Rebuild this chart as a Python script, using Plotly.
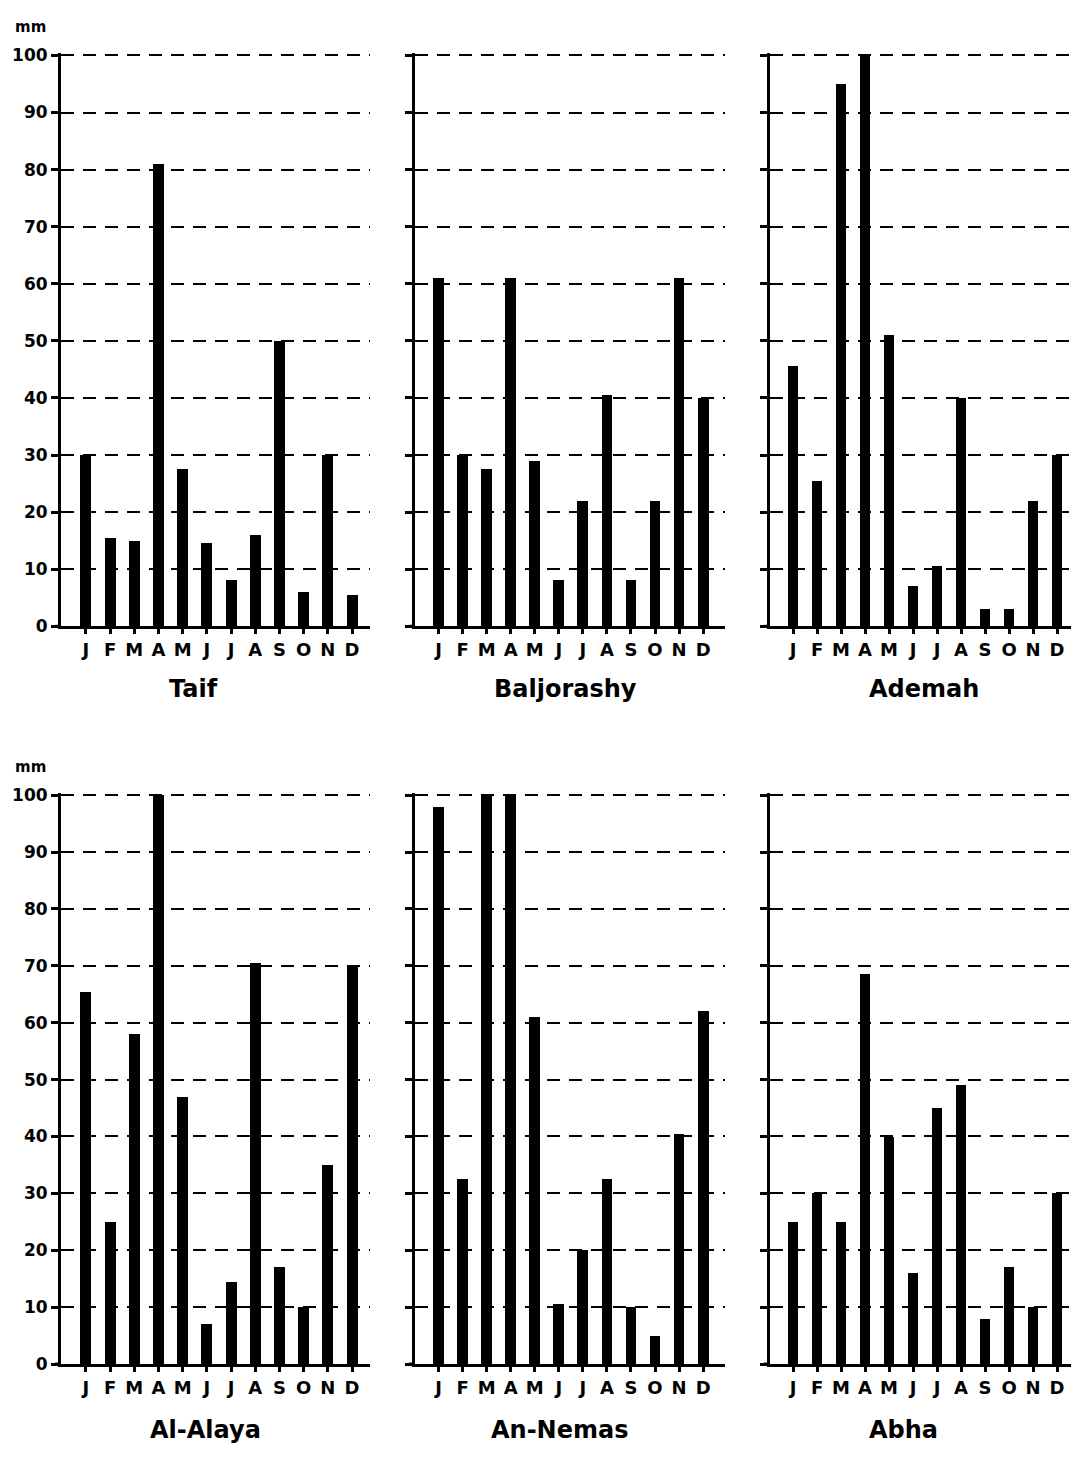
import plotly.graph_objects as go

months = ["J", "F", "M", "A", "M", "J", "J", "A", "S", "O", "N", "D"]
y_ticks = [0, 10, 20, 30, 40, 50, 60, 70, 80, 90, 100]

taif = [30, 15.5, 15, 81, 27.5, 14.5, 8, 16, 50, 6, 30, 5.5]
baljorashy = [61, 30, 27.5, 61, 29, 8, 22, 40.5, 8, 22, 61, 40]
ademah = [45.5, 25.5, 95, 100, 51, 7, 10.5, 40, 3, 3, 22, 30]
al_alaya = [65.5, 25, 58, 100, 47, 7, 14.5, 70.5, 17, 10, 35, 70]
an_nemas = [98, 32.5, 100, 100, 61, 10.5, 20, 32.5, 10, 5, 40.5, 62]
abha = [25, 30, 25, 68.5, 40, 16, 45, 49, 8, 17, 10, 30]

stations = ["Taif", "Baljorashy", "Ademah", "Al-Alaya", "An-Nemas", "Abha"]
series = [taif, baljorashy, ademah, al_alaya, an_nemas, abha]

W, H = 1071, 1457
FONT = "DejaVu Sans"

# pixel layout of panels (top = pixel of 100.4, bottom = pixel of 0)
col_px = [(61, 370), (415, 725), (770, 1071)]
col_range = [(-1.03, 11.74), (-0.98, 11.91), (-0.96, 11.58)]
row_px = [(45.7, 626), (794.7, 1373)]
title_x = [193, 565, 924, 205, 559, 903]
title_y = [690, 1440]

fig = go.Figure()
layout = {}
annotations = []
shapes = []
for i, (name, vals) in enumerate(zip(stations, series)):
    r, c = divmod(i, 3)
    n = i + 1
    xa = "x" if n == 1 else f"x{n}"
    ya = "y" if n == 1 else f"y{n}"
    fig.add_trace(go.Bar(
        x=list(range(12)), y=vals, width=0.45,
        marker=dict(color="black", line=dict(width=0)),
        xaxis=xa, yaxis=ya, showlegend=False, hoverinfo="skip"))
    x0p, x1p = col_px[c]
    ytop, ybot = row_px[r]
    layout[f"xaxis{'' if n == 1 else n}"] = dict(
        domain=[x0p / W, x1p / W], range=list(col_range[c]),
        anchor=ya, tickmode="array", tickvals=list(range(12)), ticktext=months,
        showline=True, linecolor="black", linewidth=3,
        ticks="outside", ticklen=5, tickwidth=3, tickcolor="black",
        showgrid=False, zeroline=False,
        tickfont=dict(family=FONT, size=18, color="black", weight="bold"),
    )
    layout[f"yaxis{'' if n == 1 else n}"] = dict(
        domain=[1 - ybot / H, 1 - ytop / H], range=[0, 100.4],
        anchor=xa, tickmode="array", tickvals=y_ticks,
        showticklabels=(c == 0),
        showline=True, linecolor="black", linewidth=3,
        ticks="outside", ticklen=7, tickwidth=3, tickcolor="black",
        showgrid=True, gridcolor="black", gridwidth=2, griddash="13px,9px",
        zeroline=False,
        tickfont=dict(family=FONT, size=17, color="black", weight="bold"),
    )
    annotations.append(dict(
        text=name, x=title_x[i] / W, y=1 - title_y[r] / H, xref="paper", yref="paper",
        xanchor="center", yanchor="middle", showarrow=False,
        font=dict(family=FONT, size=24, color="black", weight="bold")))
    # small extension of x-axis line to the left of the y axis
    shapes.append(dict(type="line", xref="paper", yref="paper",
                       x0=(x0p - 6) / W, x1=x0p / W, y0=1 - ybot / H, y1=1 - ybot / H,
                       line=dict(color="black", width=3)))

for yy in (19, 768):
    annotations.append(dict(
        text="mm", x=13 / W, y=1 - yy / H, xref="paper", yref="paper",
        xanchor="left", yanchor="middle", showarrow=False,
        font=dict(family=FONT, size=15, color="black", weight="bold")))

fig.update_layout(
    width=W, height=H, margin=dict(l=0, r=0, t=0, b=0),
    paper_bgcolor="white", plot_bgcolor="white",
    annotations=annotations, shapes=shapes, bargap=0, **layout)

fig.write_html(
    "out.html", config={"displayModeBar": False},
    post_script="document.body.style.margin='0px';document.body.style.overflow='hidden';")
